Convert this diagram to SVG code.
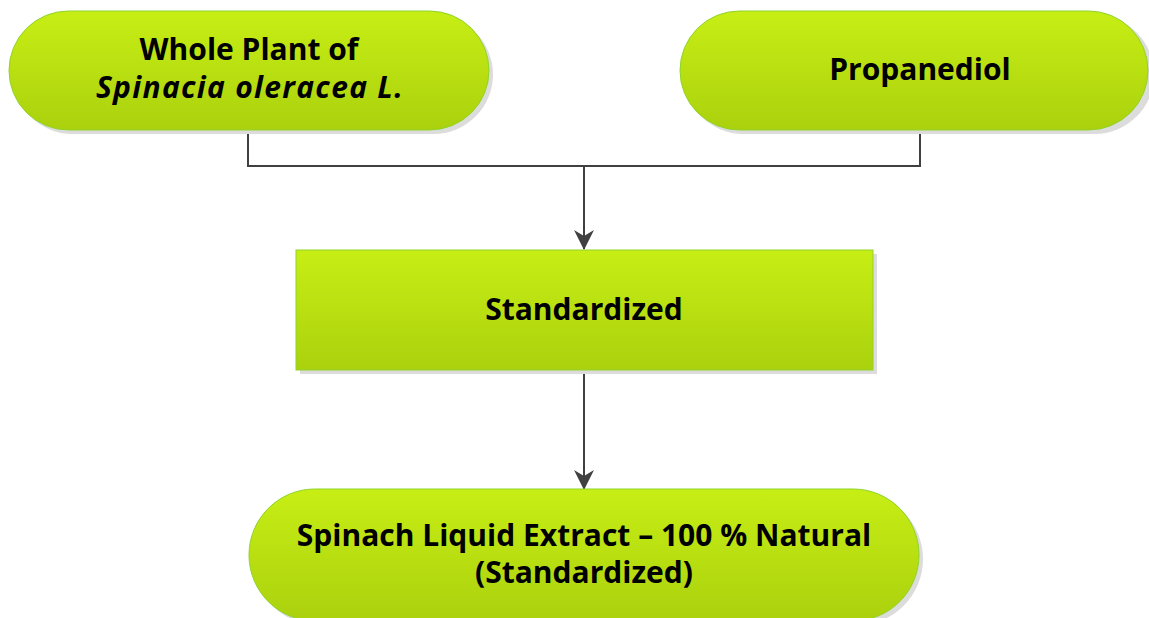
<svg xmlns="http://www.w3.org/2000/svg" width="1149" height="618" viewBox="0 0 1149 618">
<defs>
<linearGradient id="g" x1="0" y1="0" x2="0" y2="1">
<stop offset="0" stop-color="#C7EE14"/>
<stop offset="1" stop-color="#ABD10E"/>
</linearGradient>
<marker id="arr" markerWidth="20" markerHeight="20" refX="19" refY="10" orient="auto" markerUnits="userSpaceOnUse" viewBox="0 0 20 20">
<path d="M0,0 L20,10 L0,20 L6,10 Z" fill="#404040"/>
</marker>
<style>
.shape{fill:url(#g);stroke:#8FD42A;stroke-width:1}
.shadow{fill:#DCDCDC}
.t{font-family:"Open Sans","Liberation Sans",sans-serif;font-weight:700;font-size:30px;fill:#000;text-anchor:middle}
.it{font-style:italic;letter-spacing:1.3px}
.c{fill:none;stroke:#404040;stroke-width:2}
</style>
</defs>
<rect width="1149" height="618" fill="#fff"/>
<g id="connectors">
<path class="c" d="M248,131 V166 H920 V131"/>
<path class="c" d="M584,166 V249" marker-end="url(#arr)"/>
<path class="c" d="M584,371 V489" marker-end="url(#arr)"/>
</g>
<g id="node-plant">
<rect class="shadow" x="13" y="15" width="480" height="119" rx="59.5"/>
<rect class="shape" x="9" y="11" width="480" height="119" rx="59.5"/>
<text class="t" x="249" y="60">Whole Plant of</text>
<text class="t it" x="250" y="98">Spinacia oleracea L.</text>
</g>
<g id="node-propanediol">
<rect class="shadow" x="684" y="15" width="470" height="119" rx="59.5"/>
<rect class="shape" x="680" y="11" width="468" height="119" rx="59.5"/>
<text class="t" x="920" y="80">Propanediol</text>
</g>
<g id="node-standardized">
<rect class="shadow" x="300" y="254" width="577" height="120"/>
<rect class="shape" x="296" y="250" width="577" height="120"/>
<text class="t" x="584" y="320">Standardized</text>
</g>
<g id="node-extract">
<rect class="shadow" x="253" y="493" width="670" height="132" rx="66"/>
<rect class="shape" x="249" y="489" width="670" height="132" rx="66"/>
<text class="t" x="584" y="546">Spinach Liquid Extract – 100 % Natural</text>
<text class="t" x="584" y="583">(Standardized)</text>
</g>
</svg>
